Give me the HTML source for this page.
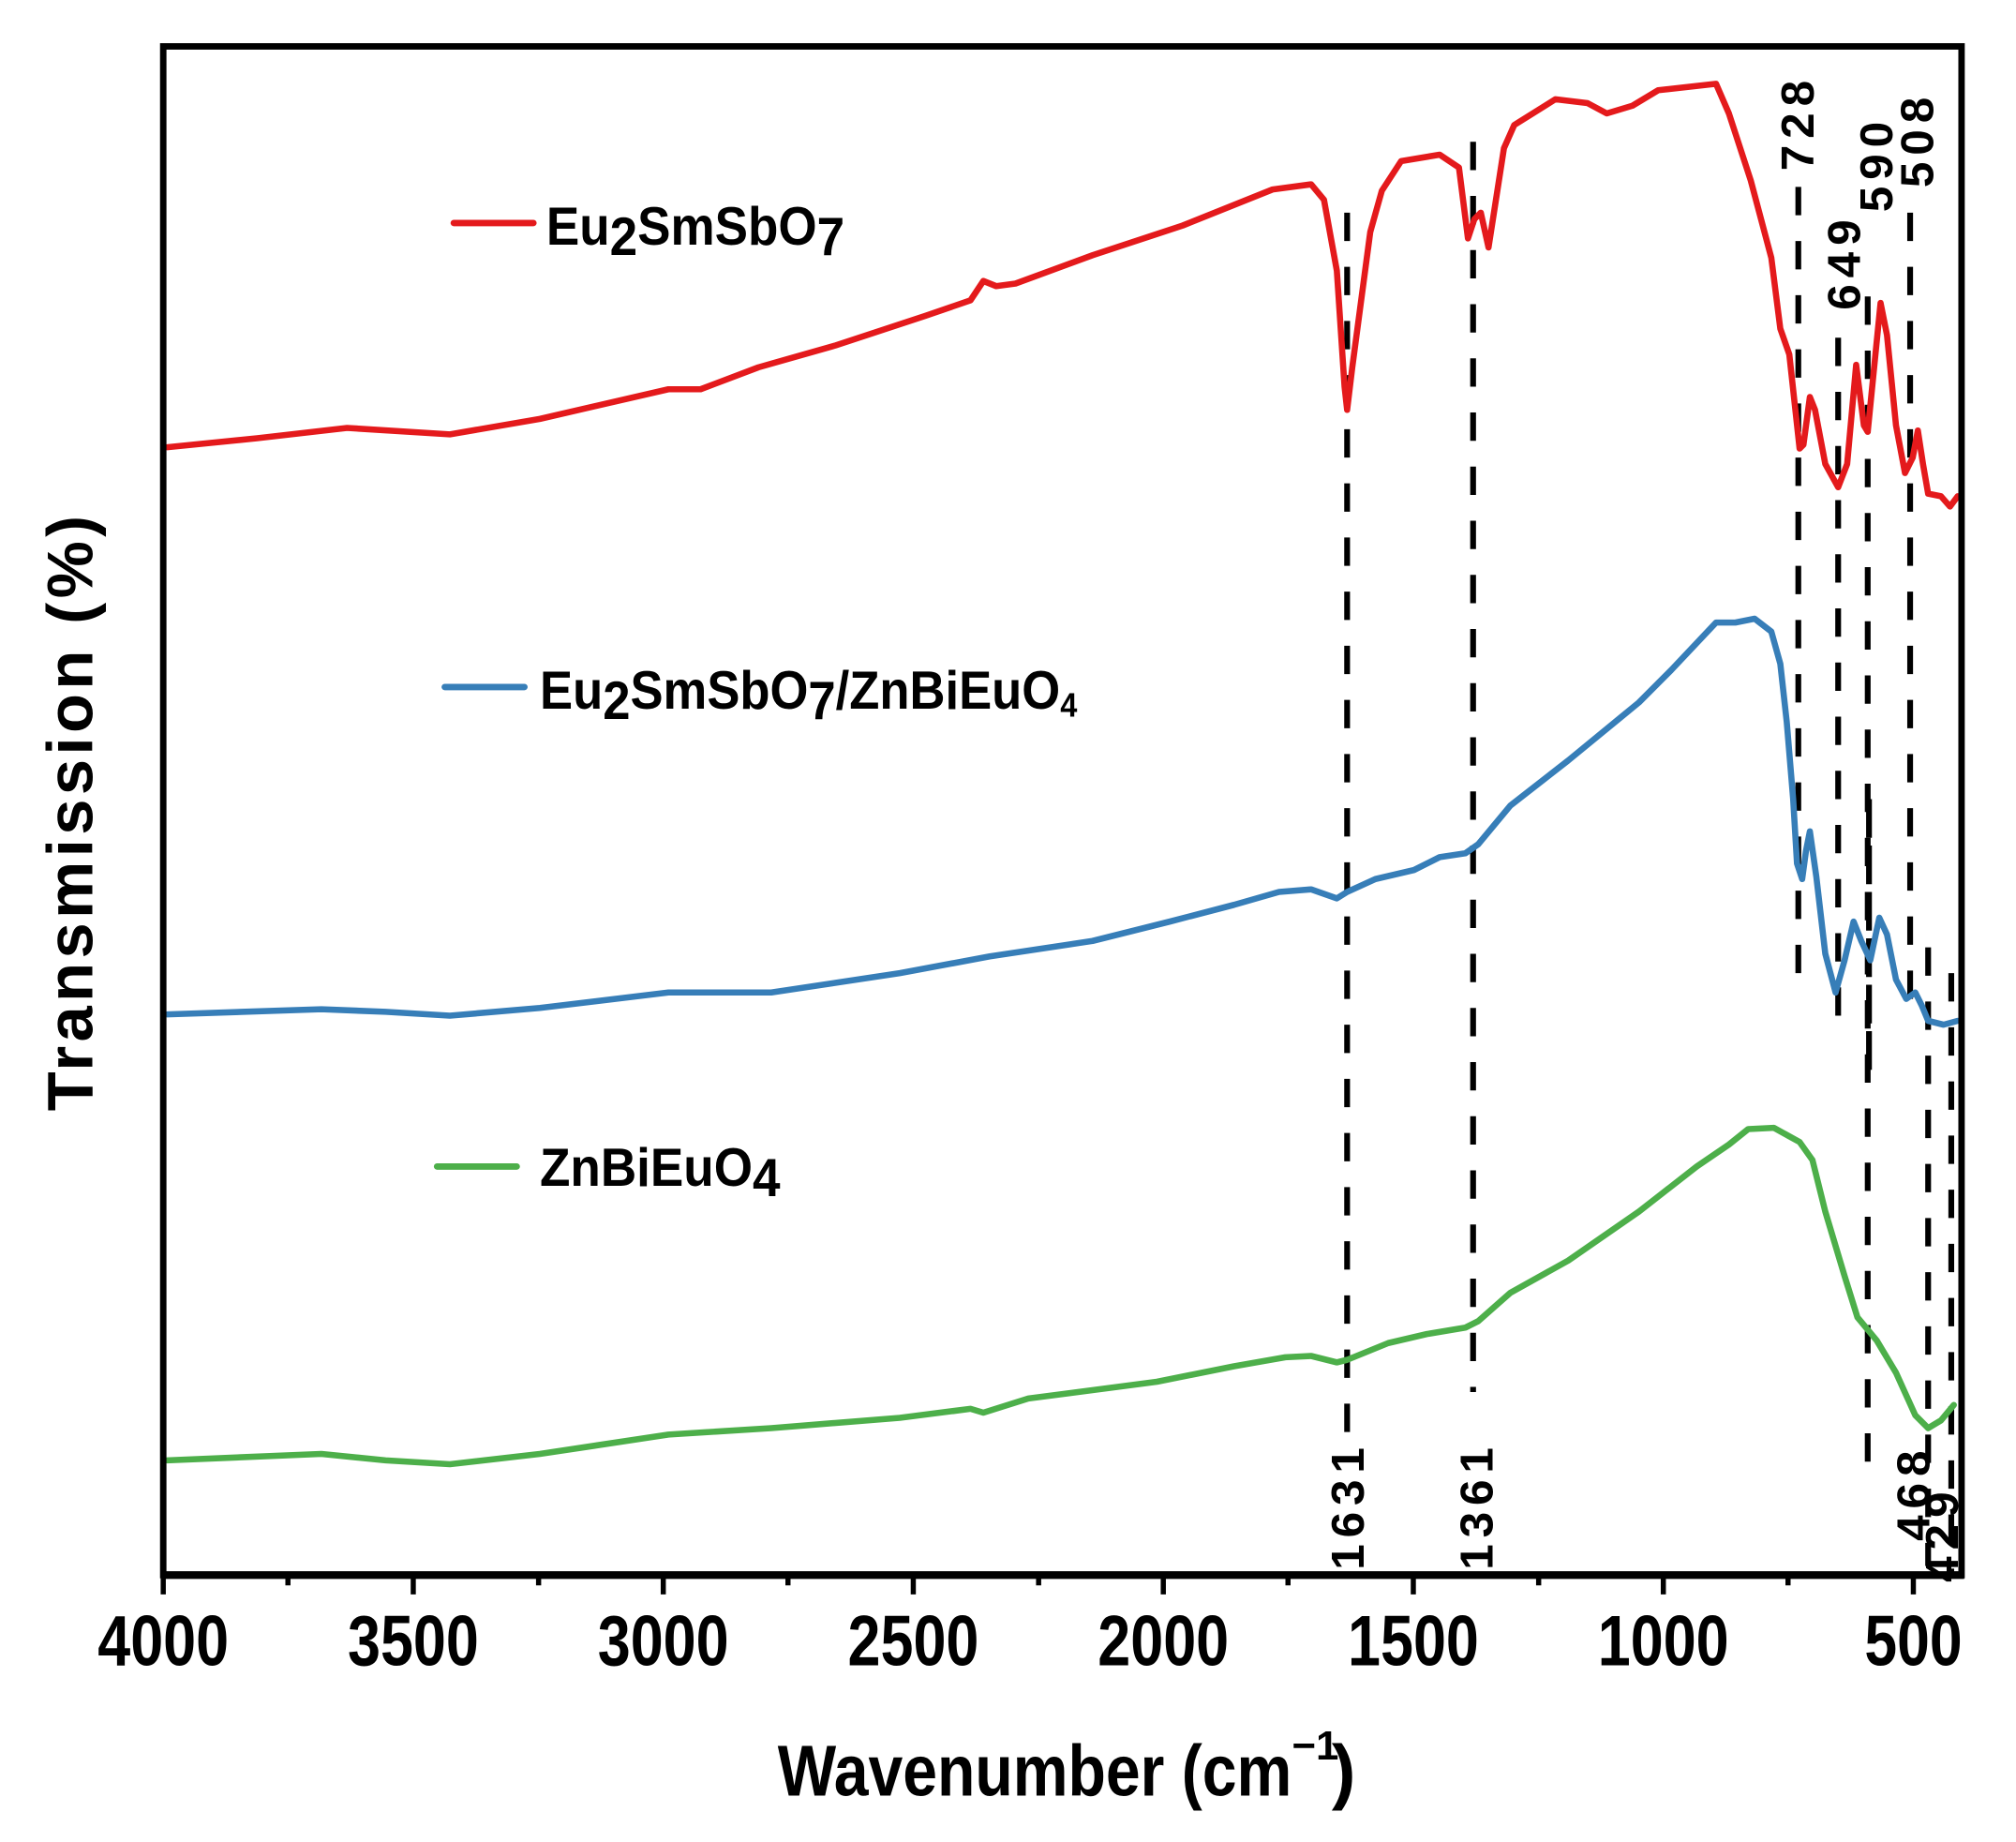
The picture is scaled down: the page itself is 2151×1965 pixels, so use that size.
<!DOCTYPE html>
<html><head><meta charset="utf-8"><style>
html,body{margin:0;padding:0;background:#fff;}
svg{display:block;}
text{font-family:"Liberation Sans",Arial,sans-serif;font-weight:bold;fill:#000;}
</style></head><body>
<svg width="2151" height="1965" viewBox="0 0 2151 1965" xmlns="http://www.w3.org/2000/svg">
<g transform="scale(1.3715,1.375)">
<g stroke="#000" stroke-width="4.5" stroke-dasharray="22,20" fill="none">
<line x1="1048" y1="165" x2="1048" y2="1112"/>
<line x1="1146" y1="110" x2="1146" y2="1080"/>
<line x1="1399" y1="145" x2="1399" y2="760"/>
<line x1="1430" y1="262" x2="1430" y2="795"/>
<line x1="1453" y1="230" x2="1453" y2="1150"/>
<line x1="1454" y1="620" x2="1454" y2="830" stroke-dasharray="30,6"/>
<line x1="1486" y1="165" x2="1486" y2="775"/>
<line x1="1500" y1="735" x2="1500" y2="1215"/>
<line x1="1518" y1="755" x2="1518" y2="1222"/>
</g>
<g fill="none" stroke-width="4.8" stroke-linejoin="round" stroke-linecap="round">
<polyline stroke="#e41a1c" points="130,347 200,340 270,332 350,337 420,325 520,302 545,302 590,285 650,268 720,245 755,233 765,218 775,222 790,220 850,198 920,175 990,147 1020,143 1030,155 1040,210 1046,300 1048,318 1052,285 1058,240 1066,180 1075,148 1090,125 1120,120 1135,130 1142,185 1147,170 1152,165 1158,192 1163,160 1170,115 1178,97 1210,77 1235,80 1250,88 1270,82 1290,70 1335,65 1345,88 1362,140 1378,200 1385,255 1392,275 1400,348 1403,345 1408,308 1412,318 1420,360 1430,378 1437,360 1444,283 1450,330 1453,335 1457,295 1463,235 1468,260 1475,330 1482,367 1488,355 1492,334 1496,360 1500,383 1510,385 1517,393 1523,385"/>
<polyline stroke="#377eb8" points="130,787 250,783 300,785 350,788 420,782 520,770 600,770 700,755 770,742 850,730 910,715 960,702 995,692 1020,690 1040,697 1048,692 1070,682 1100,675 1120,665 1140,662 1150,655 1175,625 1220,590 1275,545 1300,520 1335,483 1350,483 1365,480 1378,490 1385,515 1390,560 1395,620 1398,670 1402,682 1405,660 1408,645 1413,680 1420,740 1428,770 1435,745 1442,715 1448,730 1455,745 1462,712 1468,725 1475,760 1483,775 1490,770 1495,780 1500,792 1512,795 1523,792"/>
<polyline stroke="#4daf4a" points="130,1133 250,1128 300,1133 350,1136 420,1128 520,1113 600,1108 700,1100 755,1093 765,1096 800,1085 900,1072 960,1060 1000,1053 1020,1052 1040,1057 1048,1055 1080,1042 1110,1035 1140,1030 1150,1025 1175,1003 1220,978 1275,940 1320,905 1345,888 1360,876 1380,875 1400,886 1410,900 1420,940 1435,990 1445,1022 1460,1040 1475,1065 1490,1098 1500,1108 1510,1102 1520,1090"/>
</g>
<rect x="127" y="36" width="1399" height="1186" fill="none" stroke="#000" stroke-width="5"/>
<line x1="125" y1="1222" x2="1528" y2="1222" stroke="#000" stroke-width="6"/>
<g stroke="#000" stroke-width="4">
<line x1="127" y1="1222" x2="127" y2="1237"/><line x1="321.5" y1="1222" x2="321.5" y2="1237"/>
<line x1="516" y1="1222" x2="516" y2="1237"/><line x1="710.5" y1="1222" x2="710.5" y2="1237"/>
<line x1="905" y1="1222" x2="905" y2="1237"/><line x1="1099.5" y1="1222" x2="1099.5" y2="1237"/>
<line x1="1294" y1="1222" x2="1294" y2="1237"/><line x1="1488.5" y1="1222" x2="1488.5" y2="1237"/>
<line x1="224" y1="1222" x2="224" y2="1230"/><line x1="419" y1="1222" x2="419" y2="1230"/>
<line x1="613" y1="1222" x2="613" y2="1230"/><line x1="808" y1="1222" x2="808" y2="1230"/>
<line x1="1002" y1="1222" x2="1002" y2="1230"/><line x1="1197" y1="1222" x2="1197" y2="1230"/>
<line x1="1391" y1="1222" x2="1391" y2="1230"/>
</g>
<g font-size="55" text-anchor="middle">
<text x="127" y="1292" textLength="102" lengthAdjust="spacingAndGlyphs">4000</text>
<text x="321.5" y="1292" textLength="102" lengthAdjust="spacingAndGlyphs">3500</text>
<text x="516" y="1292" textLength="102" lengthAdjust="spacingAndGlyphs">3000</text>
<text x="710.5" y="1292" textLength="102" lengthAdjust="spacingAndGlyphs">2500</text>
<text x="905" y="1292" textLength="102" lengthAdjust="spacingAndGlyphs">2000</text>
<text x="1099.5" y="1292" textLength="102" lengthAdjust="spacingAndGlyphs">1500</text>
<text x="1294" y="1292" textLength="102" lengthAdjust="spacingAndGlyphs">1000</text>
<text x="1488.5" y="1292" textLength="76" lengthAdjust="spacingAndGlyphs">500</text>
</g>
<text x="605" y="1393" font-size="56" textLength="400" lengthAdjust="spacingAndGlyphs">Wavenumber (cm</text>
<text x="1005" y="1365" font-size="32">−1</text>
<text x="1036" y="1393" font-size="56">)</text>
<text transform="translate(72,631) rotate(-90)" font-size="50" text-anchor="middle" textLength="462" lengthAdjust="spacing">Transmission (%)</text>
<line x1="353" y1="173" x2="415" y2="173" stroke="#e41a1c" stroke-width="5" stroke-linecap="round"/>
<text x="425" y="190" font-size="42" textLength="232" lengthAdjust="spacingAndGlyphs">Eu<tspan dy="8">2</tspan><tspan dy="-8">SmSbO</tspan><tspan dy="8">7</tspan></text>
<line x1="346" y1="533" x2="408" y2="533" stroke="#377eb8" stroke-width="5" stroke-linecap="round"/>
<text x="420" y="550" font-size="42" textLength="418" lengthAdjust="spacingAndGlyphs">Eu<tspan dy="8">2</tspan><tspan dy="-8">SmSbO</tspan><tspan dy="8">7</tspan><tspan dy="-8">/ZnBiEuO</tspan><tspan dy="6" font-size="26">4</tspan></text>
<line x1="340" y1="905" x2="402" y2="905" stroke="#4daf4a" stroke-width="5" stroke-linecap="round"/>
<text x="420" y="920" font-size="42" textLength="187" lengthAdjust="spacingAndGlyphs">ZnBiEuO<tspan dy="8">4</tspan></text>
<g font-size="36" text-anchor="middle" letter-spacing="5">
<text transform="translate(1411,95) rotate(-90)">728</text>
<text transform="translate(1447,203) rotate(-90)">649</text>
<text transform="translate(1472,127) rotate(-90)">590</text>
<text transform="translate(1504,108) rotate(-90)">508</text>
<text transform="translate(1061,1168) rotate(-90)">1631</text>
<text transform="translate(1161,1168) rotate(-90)">1361</text>
<text transform="translate(1501,1158) rotate(-90)">468</text>
<text transform="translate(1523,1190) rotate(-90)">429</text>
</g>
</g>
</svg>
</body></html>
